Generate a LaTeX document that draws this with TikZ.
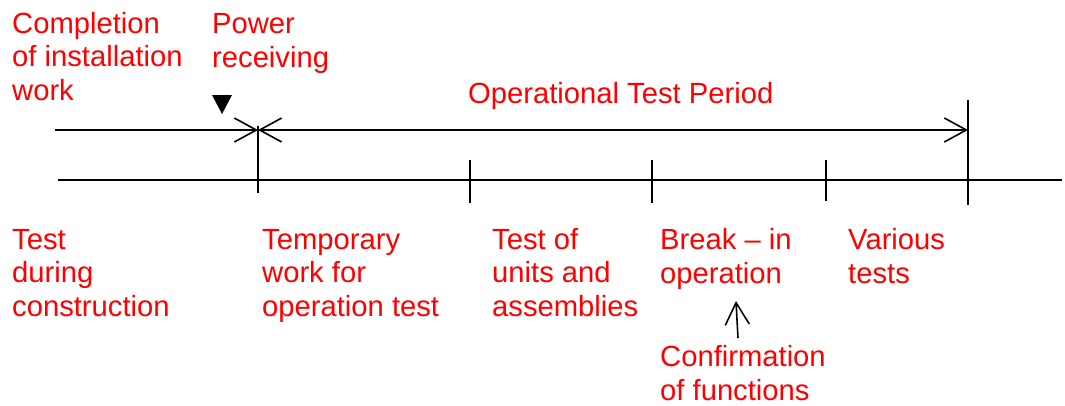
\documentclass[tikz,border=0pt]{standalone}
\usepackage{fontspec}
\setmainfont{Liberation Sans}
\usetikzlibrary{arrows.meta}
\tikzset{barbtip/.tip={Straight Barb[length=22pt,width=24pt,line width=1.6pt]}}
\begin{document}
\begin{tikzpicture}[x=1pt,y=-1pt,
  lbl/.style={text=red,anchor=base west,inner sep=0pt,align=left,
    font=\fontsize{29.2}{33.3}\selectfont},
  ln/.style={line width=1.6pt,black},
  barb/.style={line width=1.6pt,black,arrows={-barbtip}},
  dbarb/.style={line width=1.6pt,black,arrows={barbtip-barbtip}}]
\useasboundingbox (0,0) rectangle (1065,405);

% time axis and stage ticks
\coordinate (axL) at (58,180);
\coordinate (axR) at (1062,180);
\draw[ln] (axL) -- (axR);
\coordinate (t0a) at (258,126); \coordinate (t0b) at (258,193);
\coordinate (t1a) at (470,160); \coordinate (t1b) at (470,203);
\coordinate (t2a) at (652,160); \coordinate (t2b) at (652,203);
\coordinate (t3a) at (826,160); \coordinate (t3b) at (826,201);
\coordinate (t4a) at (968,100); \coordinate (t4b) at (968,205);
\foreach \t in {t0,t1,t2,t3,t4} \draw[ln] (\t a) -- (\t b);

% upper line: lead-in and test period arrow
\coordinate (s) at (55,130);
\coordinate (m) at (258,130);
\coordinate (e) at (968,130);
\draw[barb] (s) -- (m);
\draw[dbarb] (m) -- (e);

% power receiving marker
\coordinate (pw) at (222,114);
\fill[black] (212,95) -- (232,95) -- (pw) -- cycle;

% pointer to break-in operation
\coordinate (cf) at (738,338);
\coordinate (bo) at (736,301);
\draw[barb] (cf) -- (bo);

% labels (placed at the baseline of their last line)
\node[lbl] (n1) at (12,100) {Completion\\of installation\\work};
\node[lbl] (n2) at (212,67) {Power\\receiving};
\node[lbl] (n3) at (468,103) {Operational Test Period};
\node[lbl] (n4) at (12,316) {Test\\during\\construction};
\node[lbl] (n5) at (262,316) {Temporary\\work for\\operation test};
\node[lbl] (n6) at (492,316) {Test of\\units and\\assemblies};
\node[lbl] (n7) at (660,283) {Break -- in\\operation};
\node[lbl] (n8) at (848,283) {Various\\tests};
\node[lbl] (n9) at (660,400) {Confirmation\\of functions};
\end{tikzpicture}
\end{document}
